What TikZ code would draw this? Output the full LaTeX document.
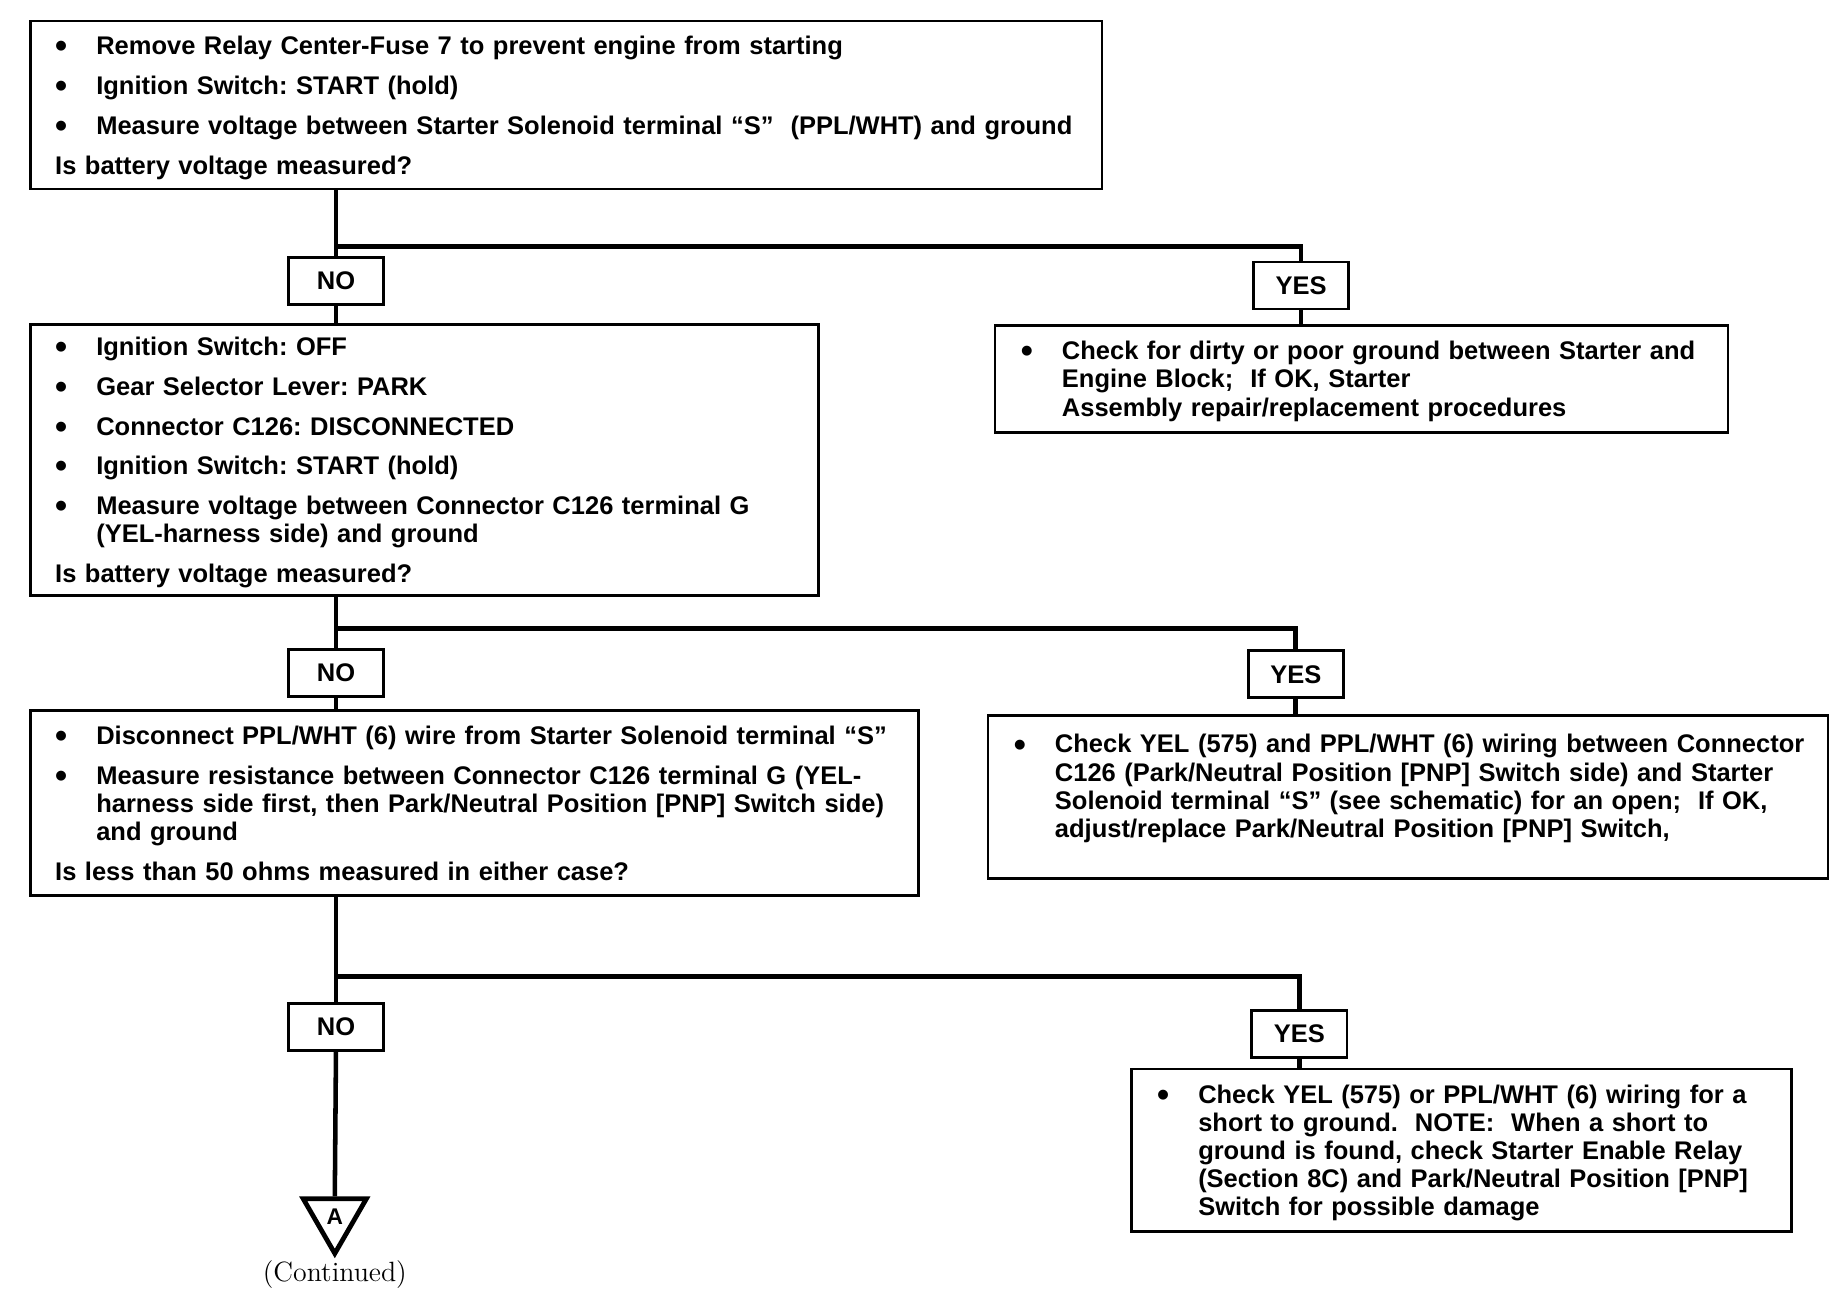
\documentclass[tikz,border=0pt]{standalone}
\usepackage{fontspec}
\setsansfont{Liberation Sans}
\usepackage{tikz}
\usetikzlibrary{shapes.geometric}

\frenchspacing
\newcommand{\boxfont}{\fontsize{12.35}{13.6}\selectfont\sffamily\bfseries}
\newcommand{\gap}{\\[5.7pt]}
\newcommand{\lastrow}{\\[-3.4pt]}
\newcommand{\dotmark}{\raisebox{-0.12em}{\scalebox{1.35}{\textbullet}}}

\begin{document}
\begin{tikzpicture}[x=0.2mm, y=-0.2mm,
    stepbox/.style={rectangle, draw=black, line width=1.3pt, align=left, font=\boxfont, inner xsep=4.2mm},
    answer/.style={rectangle, draw=black, line width=1.3pt, minimum width=16.2mm, minimum height=8mm, inner sep=0pt, font=\boxfont},
    flow/.style={line width=2.2pt}]

        \useasboundingbox (0,0) rectangle (1568,1116.8);

        %% Steps
        \node (box1) [stepbox, minimum width=182.4mm, minimum height=28.6mm, text width=174mm] at (482,89.5) {\begin{tabular}{@{}p{7mm}@{}l@{}}
            \dotmark & Remove Relay Center-Fuse 7 to prevent engine from starting \gap
            \dotmark & Ignition Switch: START (hold) \gap
            \dotmark & Measure voltage between Starter Solenoid terminal “S”\ \ (PPL/WHT) and ground \gap
            \multicolumn{2}{@{}l@{}}{Is battery voltage measured?} \lastrow
        \end{tabular}};

        \node (box2) [stepbox, minimum width=134.2mm, minimum height=46.2mm, text width=125.8mm] at (361.5,391.5) {\begin{tabular}{@{}p{7mm}@{}l@{}}
            \dotmark & Ignition Switch: OFF \gap
            \dotmark & Gear Selector Lever: PARK \gap
            \dotmark & Connector C126: DISCONNECTED \gap
            \dotmark & Ignition Switch: START (hold) \gap
            \dotmark & Measure voltage between Connector C126 terminal G \\
                     & (YEL-harness side) and ground \gap
            \multicolumn{2}{@{}l@{}}{Is battery voltage measured?} \lastrow
        \end{tabular}};

        \node (box3) [stepbox, minimum width=151.2mm, minimum height=31.4mm, text width=142.8mm] at (404,683.5) {\begin{tabular}{@{}p{7mm}@{}l@{}}
            \dotmark & Disconnect PPL/WHT (6) wire from Starter Solenoid terminal “S” \gap
            \dotmark & Measure resistance between Connector C126 terminal G (YEL- \\
                     & harness side first, then Park/Neutral Position [PNP] Switch side) \\
                     & and ground \gap
            \multicolumn{2}{@{}l@{}}{Is less than 50 ohms measured in either case?} \lastrow
        \end{tabular}};

        %% Repairs
        \node (yesbox1) [stepbox, inner xsep=4.4mm, minimum width=124.8mm, minimum height=18.2mm, text width=116mm] at (1159,322.5) {\begin{tabular}{@{}p{7mm}@{}l@{}}
            \dotmark & Check for dirty or poor ground between Starter and \\
                     & Engine Block;\ \ If OK, Starter \\
                     & Assembly repair/replacement procedures \lastrow
        \end{tabular}};

        \node (yesbox2) [stepbox, inner xsep=4.4mm, minimum width=143mm, minimum height=27.8mm, text width=134.2mm] at (1198.5,678.5) {\begin{tabular}{@{}p{7mm}@{}l@{}}
            \dotmark & Check YEL (575) and PPL/WHT (6) wiring between Connector \\
                     & C126 (Park/Neutral Position [PNP] Switch side) and Starter \\
                     & Solenoid terminal “S” (see schematic) for an open;\ \ If OK, \\
                     & adjust/replace Park/Neutral Position [PNP] Switch, \\[7.4pt]
        \end{tabular}};

        \node (yesbox3) [stepbox, inner xsep=4.4mm, minimum width=112.4mm, minimum height=27.6mm, text width=103.6mm] at (1244,979) {\begin{tabular}{@{}p{7mm}@{}l@{}}
            \dotmark & Check YEL (575) or PPL/WHT (6) wiring for a \\
                     & short to ground.\ \ NOTE:\ \ When a short to \\
                     & ground is found, check Starter Enable Relay \\
                     & (Section 8C) and Park/Neutral Position [PNP] \\
                     & Switch for possible damage \lastrow
        \end{tabular}};

        %% Answers
        \node (no1) [answer] at (286,239) {NO};
        \node (yes1) [answer] at (1107.5,243) {YES};
        \node (no2) [answer] at (286,573) {NO};
        \node (yes2) [answer] at (1103,574) {YES};
        \node (no3) [answer] at (286,874) {NO};
        \node (yes3) [answer] at (1106,880) {YES};

        %% Continuation
        \node (contA) [regular polygon, regular polygon sides=3, shape border rotate=180, draw=black, line width=2.3pt, minimum size=12.4mm, inner sep=0pt, font=\sffamily\bfseries\fontsize{11}{11}\selectfont] at (285,1036) {A};
        \node (cont) [font=\rmfamily\fontsize{13.5}{15}\selectfont] at (285,1085) {(Continued)};

        %% Branch points
        \coordinate (br1) at (286,210);
        \coordinate (br2) at (286,535);
        \coordinate (br3) at (286,831);

        %% Flow lines
        \draw [flow] (no1 |- box1.south) -- (no1.north);
        \draw [flow] (no1.south) -- (no1 |- box2.north);
        \draw [flow] (br1) -| (yes1.north);
        \draw [flow] (yes1.south) -- (yes1 |- yesbox1.north);

        \draw [flow] (no2 |- box2.south) -- (no2.north);
        \draw [flow] (no2.south) -- (no2 |- box3.north);
        \draw [flow] (br2) -| (yes2.north);
        \draw [flow] (yes2.south) -- (yes2 |- yesbox2.north);

        \draw [flow] (no3 |- box3.south) -- (no3.north);
        \draw [flow] (no3.south) -- (contA.north);
        \draw [flow] (br3) -| (yes3.north);
        \draw [flow] (yes3.south) -- (yes3 |- yesbox3.north);

\end{tikzpicture}
\end{document}
